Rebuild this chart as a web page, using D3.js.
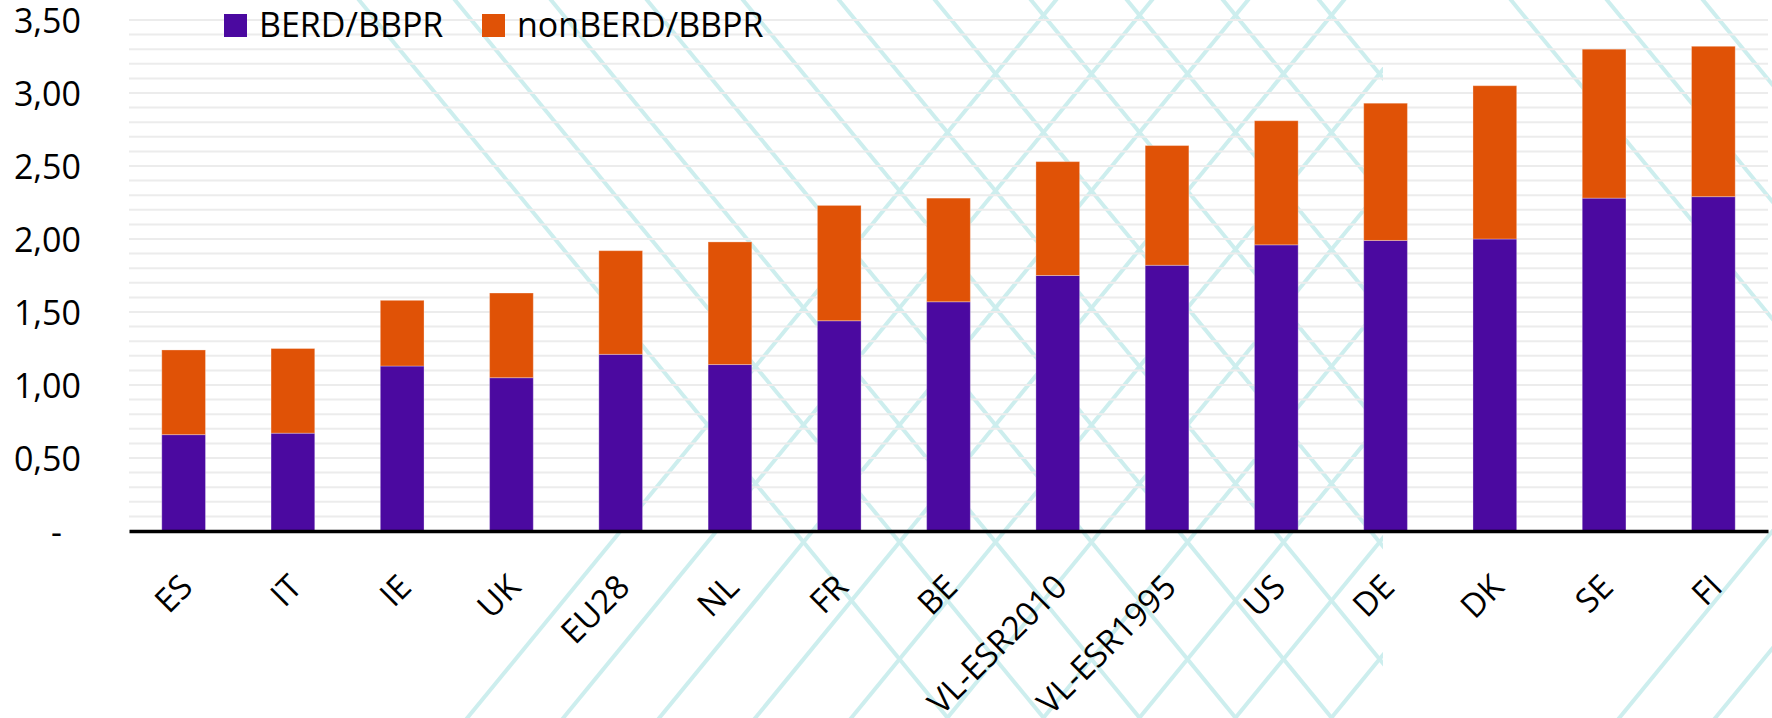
<!DOCTYPE html>
<html>
<head>
<meta charset="utf-8">
<script src="https://cdn.jsdelivr.net/npm/d3@7"></script>
<style>
    html, body { margin: 0; padding: 0; background: #ffffff; }
    svg { display: block; font-family: 'Open Sans', sans-serif; }
</style>
</head>
<body>
<div class="graph"></div>
<script>
var categories = ['ES', 'IT', 'IE', 'UK', 'EU28', 'NL', 'FR', 'BE', 'VL-ESR2010', 'VL-ESR1995', 'US', 'DE', 'DK', 'SE', 'FI'];
var berd = [0.66, 0.67, 1.13, 1.05, 1.21, 1.14, 1.44, 1.57, 1.75, 1.82, 1.96, 1.99, 2.00, 2.28, 2.29];
var nonBerd = [0.58, 0.58, 0.45, 0.58, 0.71, 0.84, 0.79, 0.71, 0.78, 0.82, 0.85, 0.94, 1.05, 1.02, 1.03];
var seriesNames = ['BERD/BBPR', 'nonBERD/BBPR'];
var seriesColors = ['#4b09a0', '#e05206'];
var yTicks = [0, 0.5, 1, 1.5, 2, 2.5, 3, 3.5];

var chartWidth = 1772;
var chartHeight = 718;
var plotLeft = 129;
var plotRight = 1768;
var plotTop = 20;
var plotBottom = 531;

document.addEventListener('DOMContentLoaded', function () {
    var svg = d3
        .select('.graph')
        .append('svg')
        .attr('width', chartWidth)
        .attr('height', chartHeight);

    // background lattice (decoration)
    var slope = 0.82;
    var step = 96;
    var deco = svg.append('g').attr('class', 'deco');
    svg.append('clipPath')
        .attr('id', 'clip-left')
        .append('rect')
        .attr('x', 0)
        .attr('y', 0)
        .attr('width', 1383)
        .attr('height', chartHeight);

    function drawFamily(x0, dir, ns, clipped) {
        deco.append('g')
            .attr('clip-path', clipped ? 'url(#clip-left)' : null)
            .selectAll('line')
            .data(ns)
            .enter()
            .append('line')
            .attr('x1', function (n) { return x0 + step * n + dir * slope * -10; })
            .attr('y1', -10)
            .attr('x2', function (n) { return x0 + step * n + dir * slope * (chartHeight + 10); })
            .attr('y2', chartHeight + 10)
            .attr('stroke', '#cdeeee')
            .attr('stroke-width', 4);
    }
    drawFamily(359, 1, d3.range(0, 11), true);
    drawFamily(359, 1, [12, 13, 14], false);
    drawFamily(1056, -1, d3.range(0, 10), true);
    drawFamily(1056, -1, [12, 13], false);

    var xScale = d3.scaleBand()
        .domain(categories)
        .range([plotLeft, plotRight])
        .paddingInner(0.6)
        .paddingOuter(0.3);

    var yScale = d3.scaleLinear()
        .domain([0, 3.5])
        .range([plotBottom, plotTop]);

    var locale = d3.formatLocale({ decimal: ',', thousands: '.', grouping: [3], currency: ['', ''] });
    var fmt = locale.format('.2f');

    // minor gridlines every 0,10
    var gridTicks = yScale.ticks(35).filter(function (d) { return d > 0; });
    svg.append('g')
        .attr('class', 'grid')
        .selectAll('line')
        .data(gridTicks)
        .enter()
        .append('line')
        .attr('x1', plotLeft)
        .attr('x2', plotRight)
        .attr('y1', function (d) { return yScale(d); })
        .attr('y2', function (d) { return yScale(d); })
        .attr('stroke', '#ececec')
        .attr('stroke-width', 2);

    // y labels
    var yAxis = d3.axisLeft(yScale)
        .tickValues(yTicks)
        .tickSize(0)
        .tickPadding(0)
        .tickFormat(function (d) { return d === 0 ? '-' : fmt(d); });

    var yG = svg.append('g')
        .attr('transform', 'translate(81, 0)')
        .call(yAxis);
    yG.select('.domain').remove();
    yG.selectAll('text')
        .attr('font-family', "'Open Sans', sans-serif")
        .attr('font-size', 34)
        .attr('fill', '#000')
        .attr('dy', '0.36em')
        .attr('dx', function (d) { return d === 0 ? -19 : 0; });

    // stacked bars
    var table = categories.map(function (c, i) {
        return { cat: c, berd: berd[i], nonBerd: nonBerd[i] };
    });
    var stack = d3.stack().keys(['berd', 'nonBerd']);
    var layers = stack(table);

    svg.append('g')
        .selectAll('g')
        .data(layers)
        .enter()
        .append('g')
        .attr('fill', function (d, i) { return seriesColors[i]; })
        .selectAll('rect')
        .data(function (d) { return d; })
        .enter()
        .append('rect')
        .attr('x', function (d) { return xScale(d.data.cat); })
        .attr('y', function (d) { return yScale(d[1]); })
        .attr('width', xScale.bandwidth())
        .attr('height', function (d) { return yScale(d[0]) - yScale(d[1]); })
        .attr('stroke', '#ffffff')
        .attr('stroke-opacity', 0.3)
        .attr('stroke-width', 1);

    // x axis
    var xAxis = d3.axisBottom(xScale).tickSize(0).tickPadding(0);
    var xG = svg.append('g')
        .attr('transform', 'translate(0,' + plotBottom + ')')
        .call(xAxis);
    xG.select('.domain')
        .attr('stroke', '#000')
        .attr('stroke-width', 3.5);
    xG.selectAll('text')
        .attr('font-family', "'Open Sans', sans-serif")
        .attr('font-size', 33)
        .attr('fill', '#000')
        .attr('text-anchor', 'end')
        .attr('y', 0)
        .attr('dy', 0)
        .attr('transform', 'translate(11, 58) rotate(-45)');

    // legend
    var legendX = [224, 482];
    var legend = svg.append('g')
        .selectAll('g')
        .data(seriesNames)
        .enter()
        .append('g')
        .attr('transform', function (d, i) { return 'translate(' + legendX[i] + ', 14)'; });
    legend.append('rect')
        .attr('width', 23)
        .attr('height', 23)
        .attr('fill', function (d, i) { return seriesColors[i]; });
    legend.append('text')
        .attr('x', 35)
        .attr('y', 23)
        .attr('font-size', 34)
        .attr('fill', '#000')
        .text(function (d) { return d; });
});
</script>
</body>
</html>
